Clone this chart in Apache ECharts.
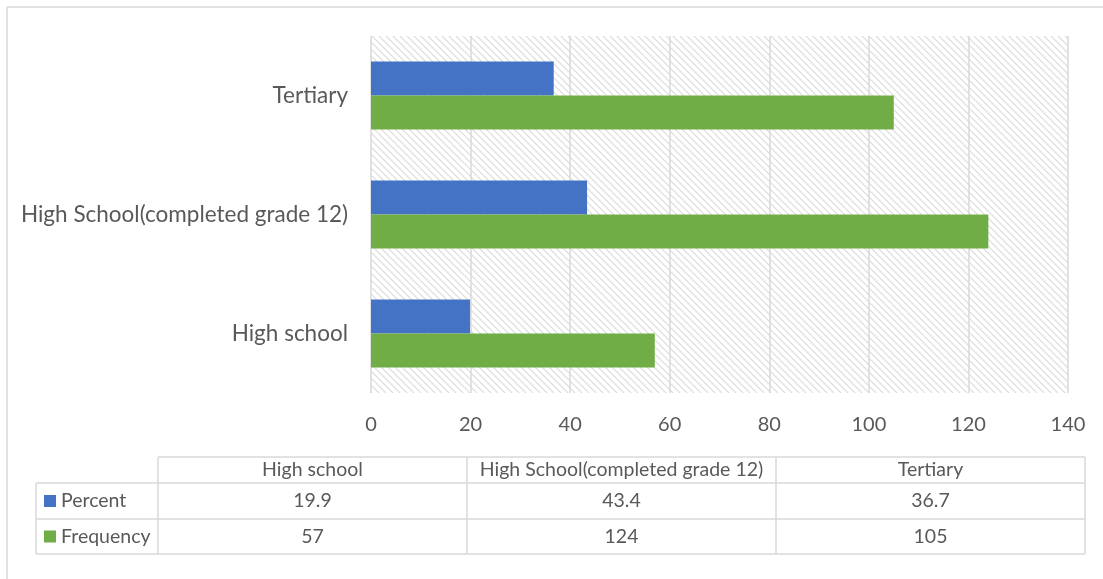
<!DOCTYPE html>
<html>
<head>
<meta charset="utf-8">
<style>
  html, body { margin: 0; padding: 0; background: #ffffff; }
  #chart { width: 1103px; height: 579px; }
</style>
<script src="https://cdn.jsdelivr.net/npm/echarts@6/dist/echarts.min.js"></script>
</head>
<body>
<div id="chart"></div>
<script>
// Education level breakdown
const categories = ['High school', 'High School(completed grade 12)', 'Tertiary'];
const percentValues = [19.9, 43.4, 36.7];
const frequencyValues = [57, 124, 105];
const seriesNames = ['Percent', 'Frequency'];
const xTicks = { min: 0, max: 140, interval: 20 };

const BLUE = '#4472C4';
const GREEN = '#70AD47';
const TEXT = '#595959';
const LINE = '#d9d9d9';
const FONT = 'Lato, "Open Sans", sans-serif';

// Diagonal hatch tile for the plot background
function hatchTile() {
  const s = 7;
  const c = document.createElement('canvas');
  c.width = s; c.height = s;
  const g = c.getContext('2d');
  g.fillStyle = '#ffffff';
  g.fillRect(0, 0, s, s);
  g.strokeStyle = '#dadada';
  g.lineWidth = 1.1;
  g.beginPath();
  g.moveTo(-1, -1); g.lineTo(s + 1, s + 1);
  g.moveTo(-1, s - 1); g.lineTo(1, s + 1);
  g.moveTo(s - 1, -1); g.lineTo(s + 1, 1);
  g.stroke();
  return c;
}

// Data table beneath the plot
const tbl = { left: 36, x0: 158, right: 1085, rows: [457, 483, 519, 554] };
function buildTable() {
  const els = [];
  const colW = (tbl.right - tbl.x0) / categories.length;
  const line = (x1, y1, x2, y2) => els.push({
    type: 'line', silent: true,
    shape: { x1, y1, x2, y2 },
    style: { stroke: LINE, lineWidth: 1.5 }
  });
  // horizontal rules
  line(tbl.x0, tbl.rows[0], tbl.right, tbl.rows[0]);
  for (let i = 1; i < tbl.rows.length; i++) line(tbl.left, tbl.rows[i], tbl.right, tbl.rows[i]);
  // vertical rules
  line(tbl.left, tbl.rows[1], tbl.left, tbl.rows[3]);
  for (let c = 0; c <= categories.length; c++) {
    const x = tbl.x0 + c * colW;
    line(x, tbl.rows[0], x, tbl.rows[3]);
  }
  const txt = (text, x, y, align) => els.push({
    type: 'text', silent: true, x, y,
    style: { text, fill: TEXT, font: '19.5px ' + FONT, align: align || 'center', verticalAlign: 'middle' }
  });
  const mid = (r) => (tbl.rows[r] + tbl.rows[r + 1]) / 2;
  categories.forEach((name, c) => {
    const cx = tbl.x0 + (c + 0.5) * colW;
    txt(name, cx, mid(0));
    txt(String(percentValues[c]), cx, mid(1));
    txt(String(frequencyValues[c]), cx, mid(2));
  });
  [[seriesNames[0], BLUE], [seriesNames[1], GREEN]].forEach(([name, color], i) => {
    const y = mid(i + 1);
    els.push({ type: 'rect', silent: true, shape: { x: 44, y: y - 6, width: 12, height: 12 }, style: { fill: color } });
    txt(name, 61, y, 'left');
  });
  // chart frame
  els.push({ type: 'line', silent: true, shape: { x1: 7, y1: 7, x2: 1103, y2: 7 }, style: { stroke: LINE, lineWidth: 1.5 } });
  els.push({ type: 'line', silent: true, shape: { x1: 7, y1: 7, x2: 7, y2: 579 }, style: { stroke: LINE, lineWidth: 1.5 } });
  return els;
}

const chart = echarts.init(document.getElementById('chart'), null, { renderer: 'canvas' });
chart.setOption({
  animation: false,
  backgroundColor: '#ffffff',
  textStyle: { fontFamily: FONT },
  grid: {
    left: 371, top: 36, width: 697, height: 357,
    show: true, borderWidth: 0,
    backgroundColor: { image: hatchTile(), repeat: 'repeat' }
  },
  xAxis: {
    type: 'value', min: xTicks.min, max: xTicks.max, interval: xTicks.interval,
    axisLine: { show: false }, axisTick: { show: false },
    splitLine: { show: true, lineStyle: { color: LINE, width: 1.5 } },
    axisLabel: { color: TEXT, fontSize: 20, margin: 22, fontFamily: FONT }
  },
  yAxis: {
    type: 'category', data: categories,
    axisLine: { show: false }, axisTick: { show: false },
    axisLabel: { color: TEXT, fontSize: 22.5, margin: 23, fontFamily: FONT }
  },
  // first series takes the upper slot of each band
  series: [
    { name: seriesNames[0], type: 'bar', data: percentValues, itemStyle: { color: BLUE }, barGap: '0%', barCategoryGap: '43%' },
    { name: seriesNames[1], type: 'bar', data: frequencyValues, itemStyle: { color: GREEN }, barGap: '0%', barCategoryGap: '43%' }
  ],
  graphic: buildTable()
});
</script>
</body>
</html>
